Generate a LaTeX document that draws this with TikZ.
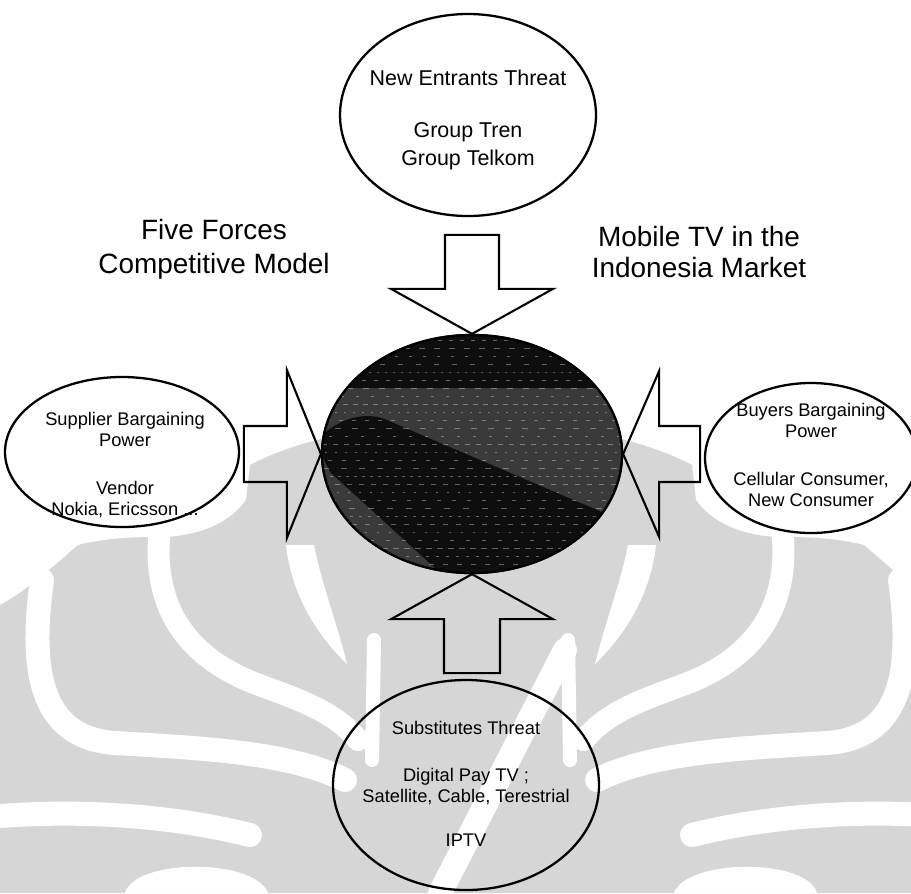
\documentclass[tikz,border=0pt]{standalone}
\usepackage{fontspec}
\setmainfont{Liberation Sans}
\usetikzlibrary{shapes.geometric}
\definecolor{wm}{RGB}{214,214,214}
\definecolor{coreblack}{RGB}{14,14,14}
\definecolor{coreband}{RGB}{58,58,58}
\def\pxu{0.02cm}

% left half of the faint background emblem (mirrored for the right half)
\newcommand\emblemhalf{%
  \fill[wm] (0,605) .. controls (25,592) and (55,565) .. (78,545)
     .. controls (110,537) and (140,537) .. (165,537)
     .. controls (205,535) and (232,520) .. (246,500) -- (250,465)
     .. controls (275,452) and (300,444) .. (325,438) -- (471,400)
     -- (471,893) -- (0,893) -- cycle;
  \draw[wmstripe, line width=22*\pxu] (160,528) .. controls (150,615) and (195,662) .. (262,686)
     .. controls (300,700) and (335,712) .. (358,740);
  \draw[wmstripe, line width=24*\pxu] (42,580) .. controls (28,680) and (45,738) .. (115,743)
     .. controls (200,748) and (290,752) .. (345,780);
  \fill[white] (286,545) .. controls (292,600) and (322,640) .. (347,664)
     .. controls (336,620) and (320,578) .. (314,545) -- cycle;
  \draw[wmstripe, line width=24*\pxu] (0,816) .. controls (80,810) and (170,815) .. (250,835);
  \fill[white] (125,893) .. controls (135,858) and (255,858) .. (268,893) -- cycle;
  \draw[wmstripe, line width=14*\pxu] (374,640) -- (372,760);
}

\begin{document}
\begin{tikzpicture}[x=0.02cm,y=-0.02cm,
  outline/.style={draw=black,line width=1.3pt},
  oval/.style={ellipse,outline,inner sep=0pt},
  blockarrow/.style={draw=black,line width=1.2pt,line join=miter},
  wmstripe/.style={draw=white,line cap=round},
  grain/.style={draw=white,line width=0.35pt,opacity=0.35},
  small/.style={font=\fontsize{10.4}{11.9}\selectfont,align=center,inner sep=0pt},
  toptext/.style={font=\fontsize{12.2}{15.9}\selectfont,align=center,inner sep=0pt},
  title/.style={font=\fontsize{15.9}{19.3}\selectfont,align=center,inner sep=0pt}]

\useasboundingbox (0,0) rectangle (911,893);
\fill[white] (0,0) rectangle (911,893);

% background emblem
\emblemhalf
\begin{scope}[shift={(942,0)},xscale=-1]
  \emblemhalf
\end{scope}
\draw[wmstripe, line width=24*\pxu] (565,650) -- (440,893);

% the market in the middle
\node[oval, fill=coreblack, minimum width=300*\pxu, minimum height=238*\pxu] (core) at (472,454) {};
\begin{scope}
  \clip (core.center) ellipse [x radius=150, y radius=119];
  \fill[coreband] (300,388) rectangle (640,600);
  \fill[coreblack] (315,442) .. controls (335,420) and (360,412) .. (382,418)
     -- (625,522) -- (625,600) -- (470,600) -- (330,472) -- cycle;
  % printed grain
  \foreach \r [count=\i] in {340,348,...,575} {
    \pgfmathsetmacro\on{mod(\i*7,5)+2}
    \pgfmathsetmacro\off{mod(\i*11,9)+5}
    \draw[grain, dash pattern=on \on*\pxu off \off*\pxu, dash phase=\i*3*\pxu] (320,\r) -- (625,\r);
  }
\end{scope}
\draw[outline] (core.center) ellipse [x radius=150, y radius=119];

% the four forces around it
\node[oval, minimum width=256*\pxu, minimum height=202*\pxu] (entrants) at (468,115) {};
\node[oval, minimum width=234*\pxu, minimum height=150*\pxu] (supplier) at (122,452) {};
\node[oval, minimum width=212*\pxu, minimum height=150*\pxu] (buyers) at (811,458) {};
\node[oval, minimum width=266*\pxu, minimum height=210*\pxu] (substitutes) at (466,785) {};

% block arrows pointing at the middle
\draw[blockarrow] (core.north) -- ++(-81,-45) -- ++(54,0) -- ++(0,-54) -- ++(54,0)
   -- ++(0,54) -- ++(54,0) -- cycle;
\draw[blockarrow] (core.south) -- ++(-81,45) -- ++(53,0) -- ++(0,54) -- ++(56,0)
   -- ++(0,-54) -- ++(53,0) -- cycle;
\draw[blockarrow] (core.west) -- ++(-34,-84) -- ++(0,56) -- ++(-43,0) -- ++(0,56)
   -- ++(43,0) -- ++(0,56) -- cycle;
\draw[blockarrow] (core.east) -- ++(36,-83) -- ++(0,55) -- ++(41,0) -- ++(0,56)
   -- ++(-41,0) -- ++(0,55) -- cycle;

% texts
\node[toptext] (entrantstext) at (468,120)
  {New Entrants Threat\\[14pt]Group Tren\\Group Telkom};
\node[small] (suppliertext) at (125,465)
  {Supplier Bargaining\\Power\\[15pt]Vendor\\Nokia, Ericsson ...};
\node[small] (buyerstext) at (811,455)
  {Buyers Bargaining\\Power\\[15.5pt]Cellular Consumer,\\New Consumer};
\node[small] (substitutestext) at (466,784)
  {Substitutes Threat\\[14.7pt]Digital Pay TV ;\\Satellite, Cable, Terestrial\\[13pt]IPTV};
\node[title] (modeltitle) at (214,249) {Five Forces\\Competitive Model};
\node[title, font=\fontsize{15.9}{18.1}\selectfont] (markettitle) at (699,252)
  {Mobile TV in the\\Indonesia Market};
\end{tikzpicture}
\end{document}
